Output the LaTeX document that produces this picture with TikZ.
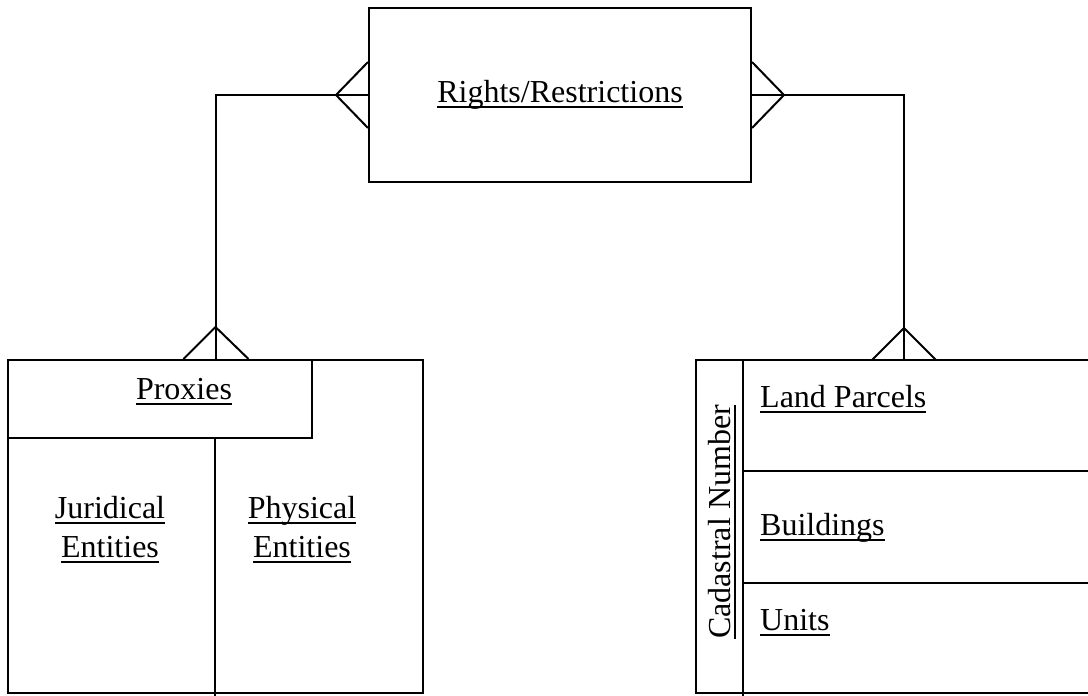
\documentclass[tikz,border=0pt]{standalone}
\usepackage{fontspec}
\setmainfont{Liberation Serif}
\usetikzlibrary{calc}

% underlined label text: a thin rule a little below the baseline
\newcommand{\undl}[1]{\setbox0\hbox{#1}\rlap{\rule[-5.6pt]{\wd0}{1.3pt}}\box0}

\tikzset{
  entity/.style={draw, line width=2pt, inner sep=0pt},
  cell/.style={inner sep=0pt},
  lbl/.style={font=\fontsize{32}{40}\selectfont, inner sep=0pt},
  rel/.style={line width=2pt},
}

\begin{document}
\begin{tikzpicture}[x=1pt, y=-1pt]
  \useasboundingbox (0,0) rectangle (1088,696);

  % Rights / Restrictions entity
  \node[entity, minimum width=382pt, minimum height=174pt] (rr) at (560,95) {};
  \node[lbl, anchor=base] (rrlbl) at (560,102) {\undl{Rights/Restrictions}};

  % Subjects: proxies, juridical and physical entities
  \node[entity, minimum width=415pt, minimum height=333pt] (subj) at (215.5,526.5) {};
  \node[entity, minimum width=304pt, minimum height=78pt, anchor=north west] (prox) at (subj.north west) {};
  \coordinate (divtop) at (215,438);
  \coordinate (divbot) at (215,696);
  \draw[rel] (divtop) -- (divbot);
  \node[lbl, anchor=base] (proxlbl) at (184,399) {\undl{Proxies}};
  \node[lbl, anchor=base] (jur1) at (110,518) {\undl{Juridical}};
  \node[lbl, anchor=base] (jur2) at (110,557) {\undl{Entities}};
  \node[lbl, anchor=base] (phy1) at (302,518) {\undl{Physical}};
  \node[lbl, anchor=base] (phy2) at (302,557) {\undl{Entities}};

  % Objects: land parcels, buildings and units by cadastral number
  \node[cell, minimum width=392pt, minimum height=333pt, anchor=north west] (obj) at (696,360) {};
  \draw[rel] (obj.north east) -- (obj.north west) -- (obj.south west) -- (obj.south east);
  \coordinate (cadtop) at (743,360);
  \coordinate (cadbot) at (743,696);
  \draw[rel] (cadtop) -- (cadbot);
  \coordinate (row1l) at (743,471);
  \coordinate (row2l) at (743,583);
  \draw[rel] (row1l) -- (row1l -| obj.east);
  \draw[rel] (row2l) -- (row2l -| obj.east);
  \node[lbl, anchor=base, rotate=90] (cadlbl) at (730,522) {\undl{Cadastral Number}};
  \node[lbl, anchor=base west] (land) at (760,407) {\undl{Land Parcels}};
  \node[lbl, anchor=base west] (bld) at (760,535) {\undl{Buildings}};
  \node[lbl, anchor=base west] (unit) at (760,630) {\undl{Units}};
  \coordinate (objtop) at (904,360);

  % Relationship: subjects -- rights (many to many)
  \draw[rel] (subj.north) |- (rr.west);
  \draw[rel] ($(rr.west)+(-32,0)$) -- ($(rr.west)+(0,-33)$);
  \draw[rel] ($(rr.west)+(-32,0)$) -- ($(rr.west)+(0,33)$);
  \draw[rel] ($(subj.north)+(0,-32)$) -- ($(subj.north)+(-32,0)$);
  \draw[rel] ($(subj.north)+(0,-32)$) -- ($(subj.north)+(33,0)$);

  % Relationship: rights -- objects (many to many)
  \draw[rel] (rr.east) -| (objtop);
  \draw[rel] ($(rr.east)+(32,0)$) -- ($(rr.east)+(0,-33)$);
  \draw[rel] ($(rr.east)+(32,0)$) -- ($(rr.east)+(0,33)$);
  \draw[rel] ($(objtop)+(0,-32)$) -- ($(objtop)+(-32,0)$);
  \draw[rel] ($(objtop)+(0,-32)$) -- ($(objtop)+(32,0)$);
\end{tikzpicture}
\end{document}
